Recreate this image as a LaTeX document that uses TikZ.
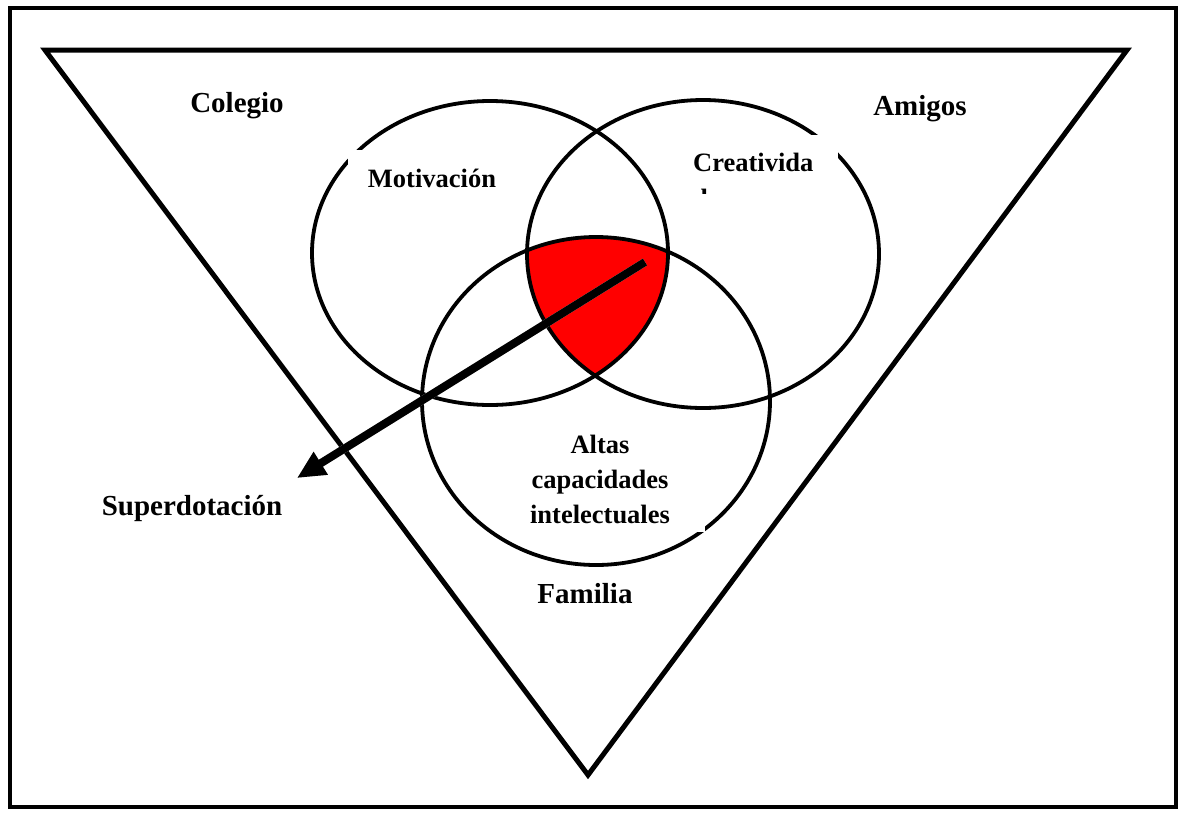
\documentclass[tikz,border=0pt]{standalone}
\usepackage{fontspec}
\setmainfont{Liberation Serif}
\usetikzlibrary{arrows.meta}
\begin{document}
\begin{tikzpicture}[x=1pt,y=-1pt,
  outerlbl/.style={font=\bfseries\fontsize{29}{33}\selectfont, anchor=base, inner sep=0pt},
  innerlbl/.style={font=\bfseries\fontsize{26.5}{36}\selectfont, anchor=base, inner sep=0pt},
  ring/.style={draw=black, line width=3.8pt},
  textbox/.style={fill=white, draw=none},
  bigarrow/.style={-{Triangle[length=28pt,width=25pt]}, line width=8pt},
  ]
\useasboundingbox (0,0) rectangle (1182,814);
\fill[white] (0,0) rectangle (1182,814);
% frame
\draw[line width=4.5pt] (10,8) rectangle (1176,807);
% triangle
\draw[line width=5pt, line join=miter] (45,50) -- (1127,50) -- (588,775) -- cycle;
% red intersection
\begin{scope}
  \clip (490,253) ellipse [x radius=178pt, y radius=152pt];
  \clip (703,254) ellipse [x radius=176pt, y radius=154pt];
  \fill[red] (596,401) ellipse [x radius=174pt, y radius=164pt];
\end{scope}
% circles
\draw[ring] (490,253) ellipse [x radius=178pt, y radius=152pt];
\draw[ring] (703,254) ellipse [x radius=176pt, y radius=154pt];
\draw[ring] (596,401) ellipse [x radius=174pt, y radius=164pt];
% arrow
\coordinate (astart) at (645,262);
\coordinate (aend) at (297,478);
\draw[bigarrow, draw=gray!45, fill=gray!45, shift={(2,2)}] (astart) -- (aend);
\draw[bigarrow] (astart) -- (aend);
% text boxes
\fill[textbox] (348,150) rectangle (510,205);
\fill[textbox] (496,425) rectangle (705,532);
% labels
\node[outerlbl] (colegio) at (237,112) {Colegio};
\node[outerlbl] (amigos) at (920,115) {Amigos};
\node[outerlbl] (familia) at (585,603) {Familia};
\node[outerlbl] (superdotacion) at (192,515) {Superdotación};
\node[innerlbl] (motivacion) at (432,187) {Motivación};
\node[innerlbl] (altas1) at (600,453) {Altas};
\node[innerlbl] (altas2) at (600,488) {capacidades};
\node[innerlbl] (altas3) at (600,523) {intelectuales};
\begin{scope}
  \clip (688,135) rectangle (838,193);
  \fill[textbox] (688,135) rectangle (838,193);
  \node[innerlbl, anchor=base west] (creatividad1) at (693,171) {Creativida};
  \node[innerlbl, anchor=base west] (creatividad2) at (693,207) {d};
\end{scope}
\end{tikzpicture}
\end{document}
